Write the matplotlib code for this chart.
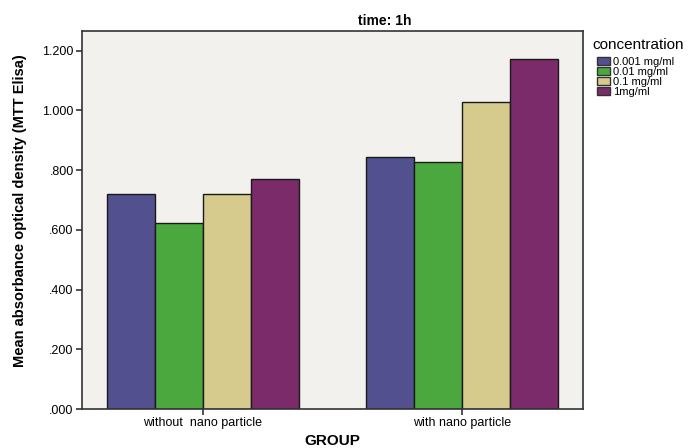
import matplotlib
matplotlib.use("Agg")
import matplotlib.pyplot as plt
import numpy as np
from matplotlib.patches import Patch

plt.rcParams['font.family'] = ['Liberation Sans', 'DejaVu Sans']

groups = ["without  nano particle", "with nano particle"]
concentrations = ["0.001 mg/ml", "0.01 mg/ml", "0.1 mg/ml", "1mg/ml"]
values = {
    "0.001 mg/ml": [0.720, 0.845],
    "0.01 mg/ml": [0.622, 0.828],
    "0.1 mg/ml": [0.720, 1.027],
    "1mg/ml": [0.770, 1.173],
}
colors = ["#52508f", "#4aa83f", "#d6ca8c", "#7b2b6a"]
yticks = [0.0, 0.2, 0.4, 0.6, 0.8, 1.0, 1.2]
ytick_labels = [".000", ".200", ".400", ".600", ".800", "1.000", "1.200"]

W, H = 692, 448
fig = plt.figure(figsize=(W/100, H/100), dpi=100)
ax = fig.add_axes([82/W, 39/H, 501/W, 378/H])
ax.set_facecolor("#f3f1ed")

x = np.arange(len(groups))
w = 0.186
for i, c in enumerate(concentrations):
    ax.bar(x + (i - 1.5) * w, values[c], width=w, color=colors[i],
           edgecolor="#1a1a1a", linewidth=1.0, zorder=2)

ax.set_xlim(-0.467, 1.467)
ax.set_ylim(0, 1.266)
ax.set_xticks(x)
ax.set_xticklabels(groups, fontsize=9)
ax.set_yticks(yticks)
ax.set_yticklabels(ytick_labels, fontsize=9)
ax.tick_params(axis='both', length=4, width=1.2, color="#333333", pad=2)
for s in ax.spines.values():
    s.set_color("#333333")
    s.set_linewidth(1.2)

fig.text(20/W, 1 - 211/H, "Mean absorbance optical density (MTT Elisa)",
         fontsize=10.5, fontweight="bold", rotation=90, ha="center", va="center")
fig.text(332/W, 1 - 441/H, "GROUP", fontsize=11, fontweight="bold",
         ha="center", va="center")
fig.text(385/W, 1 - 21/H, "time: 1h", fontsize=10, fontweight="bold",
         ha="center", va="center")
fig.text(592/W, 1 - 45/H, "concentration", fontsize=11, ha="left", va="center")

handles = [Patch(facecolor=colors[i], edgecolor="#333333", label=c)
           for i, c in enumerate(concentrations)]
leg = fig.legend(handles=handles, loc="upper left",
                 bbox_to_anchor=(597/W, 1 - 57/H), frameon=False,
                 fontsize=8, handlelength=1.15,
                 handleheight=0.75, handletextpad=0.3, labelspacing=0.0,
                 borderaxespad=0, borderpad=0)

fig.savefig("out.png", dpi=100)
